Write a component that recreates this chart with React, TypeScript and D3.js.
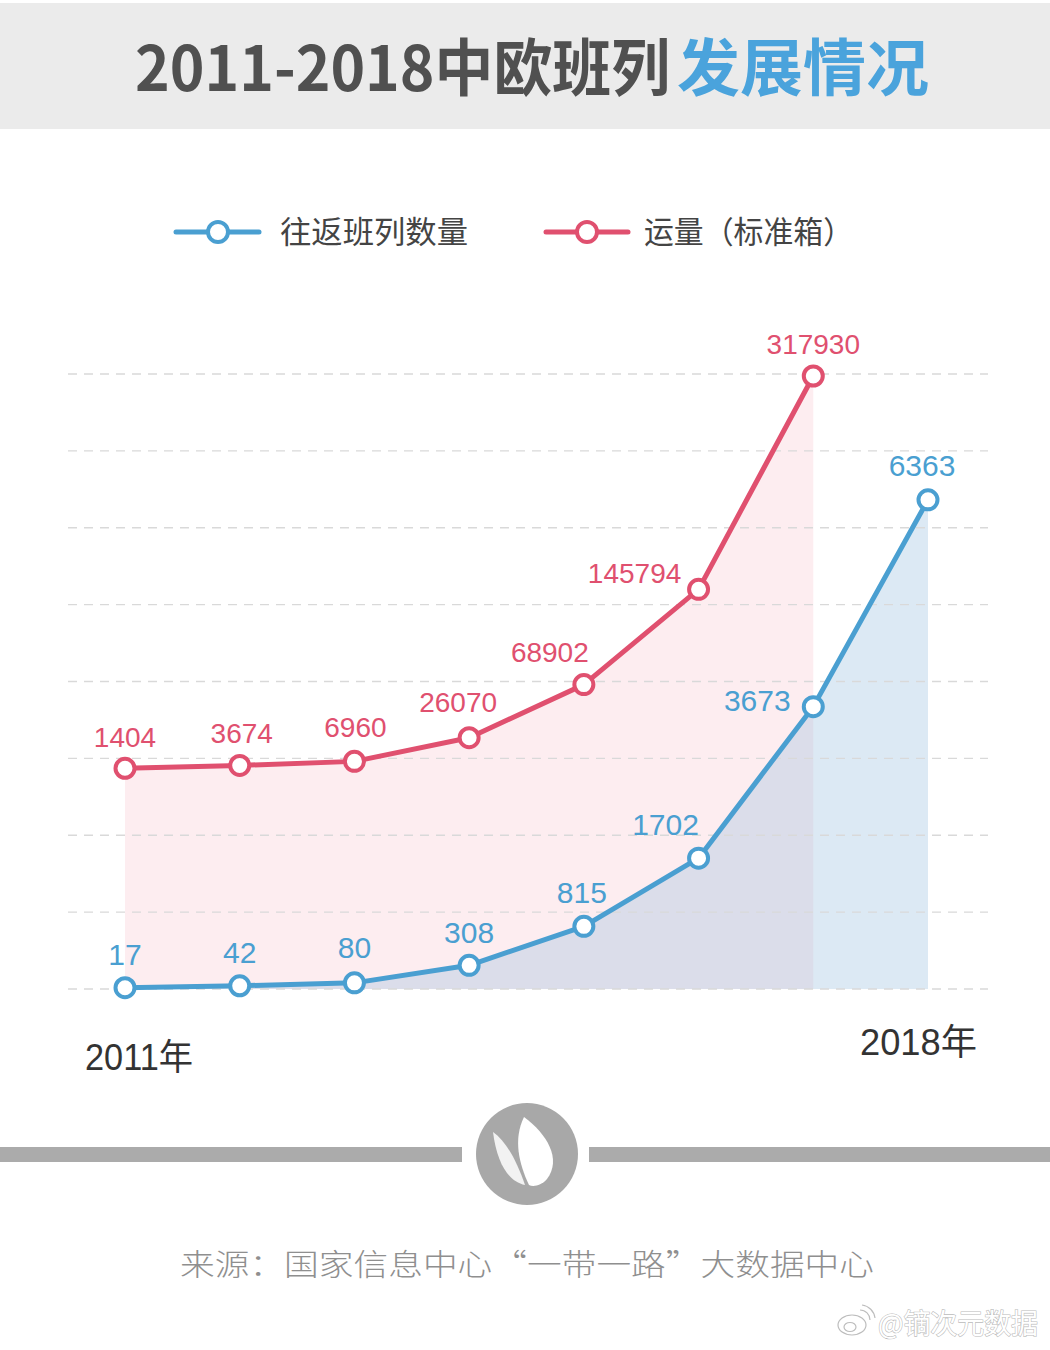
import React from "react";
import * as d3 from "d3";

// ---- data ----
const years = [2011, 2012, 2013, 2014, 2015, 2016, 2017, 2018];
const trains = [17, 42, 80, 308, 815, 1702, 3673, 6363]; // 往返班列数量
const containers = [1404, 3674, 6960, 26070, 68902, 145794, 317930]; // 运量（标准箱） 2011-2017
const gridValues = [0, 1000, 2000, 3000, 4000, 5000, 6000, 7000, 8000];
const titleDark = "2011-2018中欧班列";
const titleBlue = "发展情况";
const legendLabels = ["往返班列数量", "运量（标准箱）"];
const firstYearLabel = "2011年";
const lastYearLabel = "2018年";
const sourceText = "来源：国家信息中心“一带一路”大数据中心";
const watermarkText = "@镝次元数据";

// label placement (offsets from the point, px)
const trainLabelOffsets = [[0, -23], [0, -23], [0, -25], [0, -22], [-2, -23], [-33, -23], [-56, 4], [-6, -24]];
const containerLabelOffsets = [[0, -21], [2, -22], [1, -24], [-11, -26], [-34, -23], [-64, -6], [0, -22]];

const BLUE = "#4a9fd1";
const RED = "#e0506f";
const CJK = "'Noto Sans CJK SC', sans-serif";
const NUM = "'Liberation Sans', Arial, 'Noto Sans CJK SC', sans-serif";

export default function App() {
  const W = 1050, H = 1350;
  const baseY = 989;
  const x = d3.scalePoint<number>().domain(years).range([125, 928]);
  const yT = d3.scaleLinear().domain([0, 8000]).range([baseY, 374]);
  const yC = d3.scaleLinear().domain([0, 317930]).range([770, 376]);

  const cYears = years.slice(0, containers.length);

  const lineT = d3.line<number>().x((_, i) => x(years[i])!).y((d) => yT(d));
  const areaT = d3.area<number>().x((_, i) => x(years[i])!).y0(baseY).y1((d) => yT(d));
  const lineC = d3.line<number>().x((_, i) => x(cYears[i])!).y((d) => yC(d));
  const areaC = d3.area<number>().x((_, i) => x(cYears[i])!).y0(baseY).y1((d) => yC(d));

  const cx = 527, cy = 1154;

  return (
    <svg width={W} height={H} viewBox={`0 0 ${W} ${H}`}
      style={{ position: "absolute", left: 0, top: 0, background: "#fff" }}>
      {/* header */}
      <rect x={0} y={3} width={W} height={126} fill="#ebebeb" />
      <text x={135} y={91} fontFamily={CJK} fontWeight={700} fontSize={62} fill="#505050"
        textLength={535} lengthAdjust="spacingAndGlyphs">{titleDark}</text>
      <text x={677} y={91} fontFamily={CJK} fontWeight={700} fontSize={62} fill="#4aa3dc"
        textLength={252} lengthAdjust="spacingAndGlyphs">{titleBlue}</text>

      {/* legend */}
      <g>
        <line x1={176} x2={259} y1={232} y2={232} stroke={BLUE} strokeWidth={5} strokeLinecap="round" />
        <circle cx={218} cy={232} r={10} fill="#fff" stroke={BLUE} strokeWidth={4} />
        <text x={280} y={243} fontFamily={CJK} fontSize={31} fill="#444"
          textLength={188} lengthAdjust="spacingAndGlyphs">{legendLabels[0]}</text>
        <line x1={546} x2={628} y1={232} y2={232} stroke={RED} strokeWidth={5} strokeLinecap="round" />
        <circle cx={587} cy={232} r={10} fill="#fff" stroke={RED} strokeWidth={4} />
        <text x={644} y={243} fontFamily={CJK} fontSize={31} fill="#444"
          textLength={209} lengthAdjust="spacingAndGlyphs">{legendLabels[1]}</text>
      </g>

      {/* areas */}
      <path d={areaC(containers)!} fill="#fdedf0" />
      <path d={areaT(trains)!} fill="rgb(160,195,225)" fillOpacity={0.37} />

      {/* grid */}
      {gridValues.map((v) => (
        <line key={v} x1={68} x2={988} y1={yT(v)} y2={yT(v)}
          stroke="#d9d9d9" strokeWidth={1.3} strokeDasharray="9 7" />
      ))}

      {/* lines */}
      <path d={lineC(containers)!} fill="none" stroke={RED} strokeWidth={5} strokeLinejoin="round" />
      <path d={lineT(trains)!} fill="none" stroke={BLUE} strokeWidth={5} strokeLinejoin="round" />

      {/* markers + labels */}
      {containers.map((v, i) => (
        <g key={"c" + i}>
          <circle cx={x(cYears[i])} cy={yC(v)} r={9.5} fill="#fff" stroke={RED} strokeWidth={4} />
          <text x={x(cYears[i])! + containerLabelOffsets[i][0]} y={yC(v) + containerLabelOffsets[i][1]}
            textAnchor="middle" fontFamily={NUM} fontSize={28} fill={RED}>{v}</text>
        </g>
      ))}
      {trains.map((v, i) => (
        <g key={"t" + i}>
          <circle cx={x(years[i])} cy={yT(v)} r={9.5} fill="#fff" stroke={BLUE} strokeWidth={4} />
          <text x={x(years[i])! + trainLabelOffsets[i][0]} y={yT(v) + trainLabelOffsets[i][1]}
            textAnchor="middle" fontFamily={NUM} fontSize={30} fill={BLUE}>{v}</text>
        </g>
      ))}

      {/* year labels */}
      <text x={85} y={1070} fontFamily={NUM} fontSize={36} fill="#333"
        textLength={108} lengthAdjust="spacingAndGlyphs">{firstYearLabel}</text>
      <text x={860} y={1055} fontFamily={NUM} fontSize={36} fill="#333"
        textLength={117} lengthAdjust="spacingAndGlyphs">{lastYearLabel}</text>

      {/* divider + logo */}
      <rect x={0} y={1147} width={462} height={15} fill="#ababab" />
      <rect x={589} y={1147} width={W - 589} height={15} fill="#ababab" />
      <circle cx={cx} cy={cy} r={51} fill="#a8a8a8" />
      <path transform={`translate(${cx},${cy})`}
        d="M -34,-22 C -20,-12 -10,8 -2,31 C -18,28 -30,10 -34,-22 Z" fill="#f2f2f2" />
      <path transform={`translate(${cx},${cy})`}
        d="M -3,-37 C 20,-20 35,5 20,25 C 14,32 6,33 2,31 C -8,10 -14,-15 -3,-37 Z" fill="#ffffff" />

      {/* source */}
      <text x={180} y={1275} fontFamily={CJK} fontSize={30} fill="#8f8f8f" fontWeight={300}
        textLength={694} lengthAdjust="spacingAndGlyphs">{sourceText}</text>

      {/* watermark */}
      <g stroke="#bdbdbd" strokeWidth={1.2} fill="#fff">
        <ellipse cx={852} cy={1325} rx={14} ry={10} />
        <ellipse cx={850} cy={1327} rx={6} ry={4.5} />
        <path d="M 860,1310 A 10,10 0 0 1 870,1320" fill="none" />
        <path d="M 862,1305 A 15,15 0 0 1 875,1318" fill="none" />
      </g>
      <text x={878} y={1334} fontFamily={CJK} fontSize={28} fill="#fff" stroke="#bbbbbb"
        strokeWidth={1.2} style={{ paintOrder: "stroke" }}
        textLength={160} lengthAdjust="spacingAndGlyphs">{watermarkText}</text>
    </svg>
  );
}
